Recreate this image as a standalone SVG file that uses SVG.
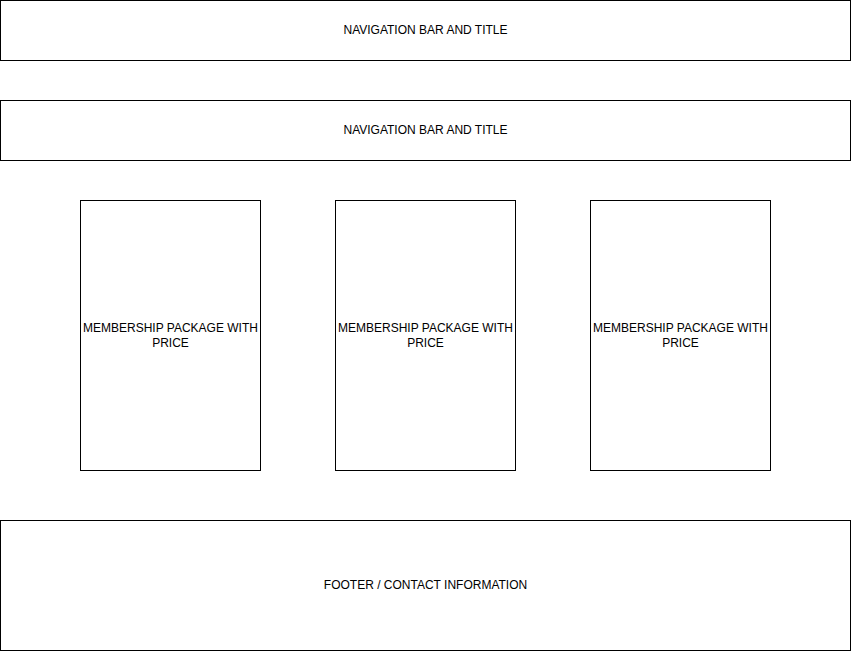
<svg xmlns="http://www.w3.org/2000/svg" width="851" height="651" viewBox="0 0 851 651">
<style>
.box{fill:#fff;stroke:#000;stroke-width:1}
.lbl{font-family:"Liberation Sans",Arial,sans-serif;font-size:12px;fill:#000;text-anchor:middle}
</style>
<rect x="0" y="0" width="851" height="651" fill="#fff"/>
<g id="nav1"><rect class="box" x="0.5" y="0.5" width="850" height="60"/><text class="lbl" x="425.5" y="33.5">NAVIGATION BAR AND TITLE</text></g>
<g id="nav2"><rect class="box" x="0.5" y="100.5" width="850" height="60"/><text class="lbl" x="425.5" y="133.5">NAVIGATION BAR AND TITLE</text></g>
<g id="pkg1"><rect class="box" x="80.5" y="200.5" width="180" height="270"/><text class="lbl" x="170.5" y="331.5">MEMBERSHIP PACKAGE WITH</text><text class="lbl" x="170.5" y="346.5">PRICE</text></g>
<g id="pkg2"><rect class="box" x="335.5" y="200.5" width="180" height="270"/><text class="lbl" x="425.5" y="331.5">MEMBERSHIP PACKAGE WITH</text><text class="lbl" x="425.5" y="346.5">PRICE</text></g>
<g id="pkg3"><rect class="box" x="590.5" y="200.5" width="180" height="270"/><text class="lbl" x="680.5" y="331.5">MEMBERSHIP PACKAGE WITH</text><text class="lbl" x="680.5" y="346.5">PRICE</text></g>
<g id="footer"><rect class="box" x="0.5" y="520.5" width="850" height="130"/><text class="lbl" x="425.5" y="588.5">FOOTER / CONTACT INFORMATION</text></g>
<g id="connectors"></g>
</svg>
